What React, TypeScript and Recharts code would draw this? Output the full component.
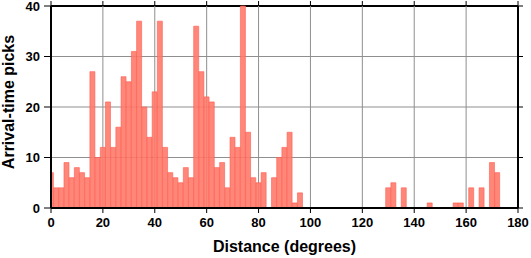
import React from "react";
import { BarChart, Bar, XAxis, YAxis, CartesianGrid, Label } from "recharts";

// Histogram bin centers (degrees), 2-degree bins
const binCenters: number[] = [
  0, 2, 4, 6, 8, 10, 12, 14, 16, 18, 20, 22, 24, 26, 28, 30, 32, 34, 36, 38,
  40, 42, 44, 46, 48, 50, 52, 54, 56, 58, 60, 62, 64, 66, 68, 70, 72, 74, 76, 78,
  80, 82, 84, 86, 88, 90, 92, 94, 96, 98, 100, 102, 104, 106, 108, 110, 112, 114, 116, 118,
  120, 122, 124, 126, 128, 130, 132, 134, 136, 138, 140, 142, 144, 146, 148, 150, 152, 154, 156, 158,
  160, 162, 164, 166, 168, 170, 172, 174, 176, 178,
];

// Arrival-time picks per bin
const picks: number[] = [
  7, 4, 4, 9, 6, 8, 7, 6, 27, 10, 12, 21, 12, 16, 26, 25, 31, 37, 20, 14,
  23, 37, 12, 7, 6, 5, 8, 6, 36, 27, 22, 21, 8, 9, 4, 14, 12, 40, 15, 6,
  5, 7, 0, 6, 10, 12, 15, 1, 3, 0, 0, 0, 0, 0, 0, 0, 0, 0, 0, 0,
  0, 0, 0, 0, 0, 4, 5, 0, 4, 0, 0, 0, 0, 1, 0, 0, 0, 0, 1, 1,
  0, 4, 0, 4, 0, 9, 7, 0, 0, 0,
];

const xTicks: number[] = [0, 20, 40, 60, 80, 100, 120, 140, 160, 180];
const yTicks: number[] = [0, 10, 20, 30, 40];

const data = binCenters.map((d, i) => ({ distance: d, picks: picks[i] }));

const FONT = "'Liberation Sans', Arial, Helvetica, sans-serif";
const tickStyle = { fill: "#000", fontSize: 13, fontWeight: 700, fontFamily: FONT };
const GRID = "#8f8f8f";

// Grid lines; the last one on each side doubles as the frame border, with outward ticks.
const renderVertical = (p: any) => {
  const top = Math.min(p.y1, p.y2);
  const isRight =
    p.x != null && p.width != null ? Math.abs(p.x1 - (p.x + p.width)) < 1 : p.index === xTicks.length - 1;
  return (
    <g key={p.key}>
      <line x1={p.x1} y1={p.y1} x2={p.x2} y2={p.y2} stroke={isRight ? "#000" : GRID} strokeWidth={isRight ? 2 : 1} />
      <line x1={p.x1} y1={top} x2={p.x1} y2={top - 5} stroke="#000" strokeWidth={1} />
    </g>
  );
};

const renderHorizontal = (p: any) => {
  const right = Math.max(p.x1, p.x2);
  const isTop = p.y != null ? Math.abs(p.y1 - p.y) < 1 : p.index === yTicks.length - 1;
  return (
    <g key={p.key}>
      <line x1={p.x1} y1={p.y1} x2={p.x2} y2={p.y2} stroke={isTop ? "#000" : GRID} strokeWidth={isTop ? 2 : 1} />
      <line x1={right} y1={p.y1} x2={right + 5} y2={p.y1} stroke="#000" strokeWidth={1} />
    </g>
  );
};

export default function App() {
  return (
    <div style={{ position: "absolute", left: 0, top: 0, width: 531, height: 258, background: "#fff" }}>
      <BarChart
        width={531}
        height={258}
        data={data}
        margin={{ top: 6, right: 13, left: 0, bottom: 0 }}
        barCategoryGap={0}
        barGap={0}
      >
        <Bar dataKey="picks" fill="#ff7a6a" fillOpacity={0.9} stroke="#ff5a4e" strokeWidth={0.6} isAnimationActive={false} />
        <CartesianGrid
          stroke={GRID}
          strokeWidth={1}
          horizontalValues={yTicks}
          verticalValues={xTicks}
          horizontal={renderHorizontal}
          vertical={renderVertical}
        />
        <XAxis
          dataKey="distance"
          type="number"
          domain={[0, 180]}
          ticks={xTicks}
          allowDataOverflow
          height={50}
          axisLine={{ stroke: "#000", strokeWidth: 2 }}
          tickLine={{ stroke: "#000", strokeWidth: 1 }}
          tickSize={5}
          tickMargin={5}
          tick={tickStyle}
          interval={0}
        >
          <Label value="Distance (degrees)" position="insideBottom" offset={6}
            style={{ fill: "#000", fontSize: 16, fontWeight: 700, fontFamily: FONT }} />
        </XAxis>
        <YAxis
          type="number"
          domain={[0, 40]}
          ticks={yTicks}
          width={51}
          axisLine={{ stroke: "#000", strokeWidth: 2 }}
          tickLine={{ stroke: "#000", strokeWidth: 1 }}
          tickSize={7}
          tickMargin={4}
          tick={tickStyle}
          interval={0}
        >
          <Label
            content={() => (
              <text x={13.5} y={102} transform="rotate(-90 13.5 102)" textAnchor="middle"
                style={{ fill: "#000", fontSize: 16, fontWeight: 700, fontFamily: FONT }}>
                Arrival-time picks
              </text>
            )}
          />
        </YAxis>
      </BarChart>
    </div>
  );
}
